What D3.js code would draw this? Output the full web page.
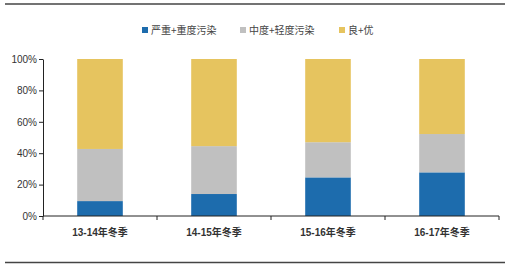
<!DOCTYPE html>
<html lang="zh">
<head>
<meta charset="UTF-8">
<title>冬季空气质量</title>
<script src="https://d3js.org/d3.v7.min.js"></script>
<style>
    body { margin: 0; background: #fff; }
    text { font-family: Arial, "Liberation Sans", "Noto Sans CJK SC", sans-serif; }
</style>
</head>
<body>
<div id="chart"></div>
<script>
    var categories = ['13-14年冬季', '14-15年冬季', '15-16年冬季', '16-17年冬季'];
    var seriesNames = ['严重+重度污染', '中度+轻度污染', '良+优'];
    var severe = [9.5, 14, 24.6, 27.8];
    var moderate = [33.2, 30.5, 22.4, 24.4];
    var good = [57.3, 55.5, 53, 47.8];
    var yTicks = [0, 20, 40, 60, 80, 100];
    var colors = ['#1d6cad', '#c0c0c0', '#e6c45f'];

    var w = 506, h = 268;
    var margin = { left: 43, right: 7, top: 59, bottom: 52 };

    var svg = d3.select('#chart').append('svg')
        .attr('width', w)
        .attr('height', h);

    // frame lines top and bottom
    svg.append('line').attr('x1', 5).attr('x2', 505).attr('y1', 4).attr('y2', 4)
        .attr('stroke', '#444').attr('stroke-width', 1.5);
    svg.append('line').attr('x1', 5).attr('x2', 505).attr('y1', 262.5).attr('y2', 262.5)
        .attr('stroke', '#444').attr('stroke-width', 1.5);

    var table = categories.map(function (c, i) {
        return { cat: c, s0: severe[i], s1: moderate[i], s2: good[i] };
    });
    var stack = d3.stack().keys(['s0', 's1', 's2'])(table);

    var x = d3.scaleBand()
        .domain(categories)
        .range([margin.left, w - margin.right])
        .paddingInner(0.6)
        .paddingOuter(0.3);

    var y = d3.scaleLinear()
        .domain([0, 100])
        .range([h - margin.bottom, margin.top]);

    svg.selectAll('g.layer')
        .data(stack)
        .enter()
        .append('g')
        .attr('class', 'layer')
        .attr('fill', function (d, i) { return colors[i]; })
        .selectAll('rect')
        .data(function (d) { return d; })
        .enter()
        .append('rect')
        .attr('x', function (d) { return x(d.data.cat); })
        .attr('y', function (d) { return y(d[1]); })
        .attr('width', x.bandwidth())
        .attr('height', function (d) { return y(d[0]) - y(d[1]); });

    // y axis
    var yAxis = svg.append('g')
        .attr('transform', 'translate(' + margin.left + ',0)')
        .call(d3.axisLeft(y).tickValues(yTicks).tickSize(4).tickSizeOuter(0)
            .tickFormat(function (d) { return d + '%'; }));
    yAxis.select('.domain').attr('stroke', '#222');
    yAxis.selectAll('.tick line').attr('stroke', '#222');
    yAxis.selectAll('text').attr('font-size', 10).attr('fill', '#333').attr('x', -6);

    // x axis with ticks at category boundaries
    var base = h - margin.bottom;
    var xAxis = svg.append('g').attr('transform', 'translate(0,' + base + ')');
    xAxis.append('line')
        .attr('x1', margin.left).attr('x2', w - margin.right)
        .attr('stroke', '#222');
    var step = x.step();
    var bounds = d3.range(categories.length + 1).map(function (i) {
        return margin.left + i * (w - margin.left - margin.right) / categories.length;
    });
    xAxis.selectAll('line.tk')
        .data(bounds)
        .enter()
        .append('line')
        .attr('class', 'tk')
        .attr('x1', function (d) { return d; })
        .attr('x2', function (d) { return d; })
        .attr('y1', 0).attr('y2', 4)
        .attr('stroke', '#222');
    xAxis.selectAll('text')
        .data(categories)
        .enter()
        .append('text')
        .attr('x', function (d) { return x(d) + x.bandwidth() / 2; })
        .attr('y', 20)
        .attr('text-anchor', 'middle')
        .attr('font-size', 10)
        .attr('font-weight', 'bold')
        .attr('fill', '#333')
        .text(function (d) { return d; });

    // legend
    var legendX = [142, 240, 339];
    var legend = svg.selectAll('g.legend')
        .data(seriesNames)
        .enter()
        .append('g')
        .attr('class', 'legend')
        .attr('transform', function (d, i) { return 'translate(' + legendX[i] + ',31)'; });
    legend.append('rect')
        .attr('x', 0).attr('y', -4)
        .attr('width', 6).attr('height', 6)
        .attr('fill', function (d, i) { return colors[i]; });
    legend.append('text')
        .attr('x', 9).attr('y', 3)
        .attr('font-size', 10)
        .attr('fill', '#444')
        .style('font-family', '"Noto Sans CJK SC", sans-serif')
        .text(function (d) { return d; });
</script>
</body>
</html>
